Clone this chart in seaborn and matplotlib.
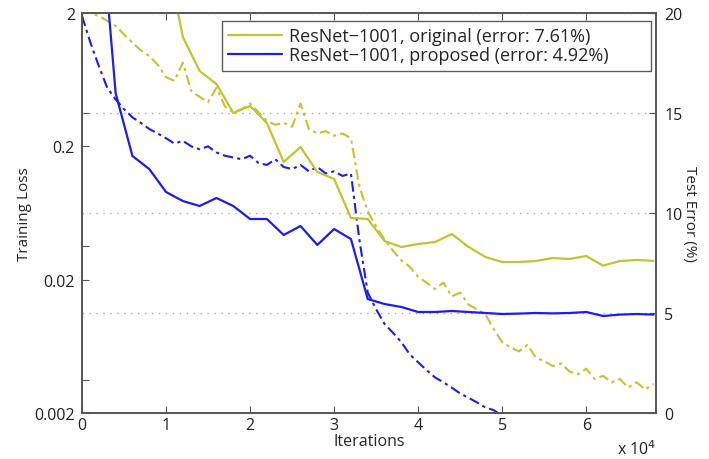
import pandas as pd
import matplotlib
matplotlib.use("Agg")
import matplotlib.pyplot as plt
import matplotlib.ticker as mticker
from matplotlib.lines import Line2D
import seaborn as sns

# Training loss curves (left axis, log scale), one point every 1000 iterations
loss_iters = [0, 1000, 2000, 3000, 4000, 5000, 6000, 7000, 8000, 9000,
              10000, 11000, 12000, 13000, 14000, 15000, 16000, 17000, 18000, 19000,
              20000, 21000, 22000, 23000, 24000, 25000, 26000, 27000, 28000, 29000,
              30000, 31000, 32000, 33000, 34000, 35000, 36000, 37000, 38000, 39000,
              40000, 41000, 42000, 43000, 44000, 45000, 46000, 47000, 48000, 49000,
              50000, 51000, 52000, 53000, 54000, 55000, 56000, 57000, 58000, 59000,
              60000, 61000, 62000, 63000, 64000, 65000, 66000, 67000, 68000]
loss_original = [2.2, 2.0, 1.9, 1.75, 1.6, 1.38, 1.2, 1.05, 0.95, 0.82,
                 0.66, 0.62, 0.85, 0.52, 0.47, 0.43, 0.55, 0.40, 0.36, 0.38,
                 0.42, 0.36, 0.31, 0.29, 0.30, 0.28, 0.42, 0.27, 0.25, 0.26,
                 0.24, 0.25, 0.23, 0.10, 0.065, 0.050, 0.040, 0.033, 0.028, 0.025,
                 0.021, 0.019, 0.017, 0.019, 0.015, 0.016, 0.013, 0.012, 0.011, 0.0085,
                 0.0068, 0.0062, 0.0058, 0.0065, 0.0052, 0.0049, 0.0045, 0.0047, 0.0041, 0.0039,
                 0.0043, 0.0036, 0.0038, 0.0034, 0.0036, 0.0031, 0.0034, 0.0030, 0.0033]
loss_proposed = [1.9, 1.2, 0.8, 0.55, 0.45, 0.38, 0.33, 0.30, 0.27, 0.25,
                 0.23, 0.21, 0.22, 0.20, 0.19, 0.20, 0.18, 0.17, 0.165, 0.16,
                 0.17, 0.15, 0.145, 0.16, 0.14, 0.135, 0.145, 0.13, 0.14, 0.125,
                 0.13, 0.12, 0.125, 0.040, 0.016, 0.012, 0.0093, 0.008, 0.0068, 0.0055,
                 0.0048, 0.0042, 0.0037, 0.0034, 0.0031, 0.0028, 0.0026, 0.0024, 0.0022, 0.0021,
                 0.0019, 0.0017, 0.0018, 0.0016, 0.0017, 0.0015, 0.0016, 0.0015, 0.0014, 0.0015,
                 0.0014, 0.0013, 0.0014, 0.0013, 0.0012, 0.0013, 0.0012, 0.0012, 0.0011]

# Test error curves (right axis, %), one point every 2000 iterations
err_iters = [0, 2000, 4000, 6000, 8000, 10000, 12000, 14000, 16000, 18000,
             20000, 22000, 24000, 26000, 28000, 30000, 32000, 34000, 36000, 38000,
             40000, 42000, 44000, 46000, 48000, 50000, 52000, 54000, 56000, 58000,
             60000, 62000, 64000, 66000, 68000]
err_original = [45, 38, 33, 28, 25, 23, 18.8, 17.1, 16.45, 15.0,
                15.35, 14.5, 12.55, 13.3, 12.05, 11.7, 9.75, 9.7, 8.6, 8.3,
                8.45, 8.55, 8.95, 8.3, 7.8, 7.55, 7.55, 7.6, 7.75, 7.7,
                7.85, 7.37, 7.6, 7.65, 7.61]
err_proposed = [40, 26, 16, 12.85, 12.2, 11.05, 10.6, 10.35, 10.75, 10.35,
                9.7, 9.7, 8.9, 9.35, 8.4, 9.2, 8.7, 5.7, 5.45, 5.3,
                5.05, 5.05, 5.1, 5.05, 5.0, 4.95, 4.97, 5.0, 4.98, 5.0,
                5.05, 4.85, 4.92, 4.95, 4.92]

labels = ["ResNet\u22121001, original (error: 7.61%)",
          "ResNet\u22121001, proposed (error: 4.92%)"]
colors = ["#c4c330", "#1c1cf5"]

loss_df = pd.DataFrame({"iter": loss_iters * 2,
                        "loss": loss_original + loss_proposed,
                        "model": [labels[0]] * len(loss_iters) + [labels[1]] * len(loss_iters)})
err_df = pd.DataFrame({"iter": err_iters * 2,
                       "err": err_original + err_proposed,
                       "model": [labels[0]] * len(err_iters) + [labels[1]] * len(err_iters)})

sns.set_style("ticks")
plt.rcParams["font.family"] = ["Open Sans", "DejaVu Sans"]
plt.rcParams["axes.edgecolor"] = "#555555"
plt.rcParams["xtick.color"] = "#555555"
plt.rcParams["ytick.color"] = "#555555"
plt.rcParams["xtick.labelcolor"] = "#222222"
plt.rcParams["ytick.labelcolor"] = "#222222"

fig = plt.figure(figsize=(7.09, 4.60), dpi=100)
ax = fig.add_axes([82 / 709, 46 / 460, 574 / 709, 400 / 460])
ax2 = ax.twinx()

# Training loss (dash-dot, left axis)
sns.lineplot(data=loss_df, x="iter", y="loss", hue="model", palette=colors,
             ax=ax, legend=False, linewidth=1.5)
for ln in ax.lines:
    ln.set_dashes([5, 2, 1.5, 2])

# Test error (solid, right axis)
sns.lineplot(data=err_df, x="iter", y="err", hue="model", palette=colors,
             ax=ax2, legend=False, linewidth=1.6)

ax.set_yscale("log")
ax.set_ylim(0.002, 2)
ax.set_xlim(0, 68300)
ax.set_yticks([0.002, 0.02, 0.2, 2])
ax.set_yticklabels(["0.002", "0.02", "0.2", "2"])
ax.yaxis.set_minor_locator(mticker.FixedLocator([0.00356, 0.0356, 0.356]))
ax.yaxis.set_minor_formatter(mticker.NullFormatter())
ax.set_xticks([0, 10000, 20000, 30000, 40000, 50000, 60000])
ax.set_xticklabels(["0", "1", "2", "3", "4", "5", "6"])
ax.tick_params(axis="both", which="both", direction="in", length=5, width=0.8,
               labelsize=11.5, top=True, pad=5)
ax.tick_params(axis="x", pad=3)
ax.set_xlabel("Iterations", fontsize=11.5, labelpad=0)
ax.set_ylabel("Training Loss", fontsize=11)
ax.yaxis.set_label_coords(-0.087, 0.5)

ax2.set_ylim(0, 20)
ax2.set_yticks([0, 5, 10, 15, 20])
ax2.tick_params(axis="y", direction="in", length=5, width=0.8, labelsize=11.5, pad=6)
ax2.set_ylabel("Test Error (%)", fontsize=11, rotation=270, va="center")
ax2.yaxis.set_label_coords(1.059, 0.5)
ax2.yaxis.grid(True, linestyle=(0, (1, 4)), color="#aaaaaa", linewidth=1)
ax2.set_xlim(0, 68300)

for a in (ax, ax2):
    for s in a.spines.values():
        s.set_linewidth(1.2)

handles = [Line2D([], [], color=c, linewidth=1.6) for c in colors]
leg = ax2.legend(handles, labels, loc="upper left",
                 bbox_to_anchor=(0.2439, 0.0, 0.7474, 0.98), mode="expand",
                 fontsize=13, frameon=True, fancybox=False, handlelength=3.0,
                 borderpad=0.35, labelspacing=0.05, handletextpad=0.35,
                 borderaxespad=0)
leg.get_frame().set_edgecolor("#333333")
leg.get_frame().set_linewidth(1.0)

fig.text(617 / 709, 1 / 460, "x 10$^4$", fontsize=11.5, color="#222222", va="bottom")

fig.savefig("out.png", dpi=100)
